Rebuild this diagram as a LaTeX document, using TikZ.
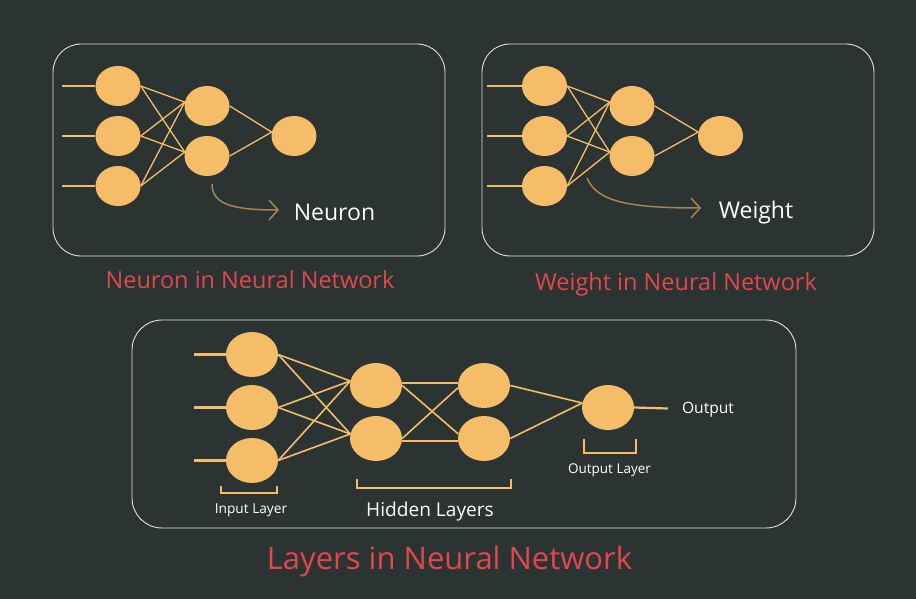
\documentclass[tikz,border=0pt]{standalone}
\usepackage{fontspec}
\setmainfont{Open Sans}
\usetikzlibrary{shapes.geometric,arrows.meta}
\definecolor{bgC}{RGB}{44,51,51}
\definecolor{nodeC}{RGB}{245,189,103}
\definecolor{redC}{RGB}{224,72,76}
\definecolor{boxC}{RGB}{225,225,225}
\definecolor{arrC}{RGB}{168,132,79}
\newcommand{\myfs}[1]{\fontsize{#1}{#1}\selectfont}
\tikzset{
  neuron/.style={ellipse, fill=nodeC, draw=none, minimum width=45pt, minimum height=40pt, inner sep=0pt},
  bigneuron/.style={ellipse, fill=nodeC, draw=none, minimum width=52pt, minimum height=45pt, inner sep=0pt},
  edge/.style={draw=nodeC, line width=1.3pt},
  bigedge/.style={draw=nodeC, line width=1.6pt},
  inline/.style={draw=nodeC, line width=1.6pt},
  biginline/.style={draw=nodeC, line width=2.2pt},
  panel/.style={draw=boxC, line width=0.9pt, rounded corners=28pt, fill=none, inner sep=0pt},
  curvearrow/.style={draw=arrC, line width=1.5pt, -{Straight Barb[length=9pt,width=20pt]}},
  title/.style={text=redC, anchor=base, inner sep=0pt},
  label/.style={text=white, anchor=base, inner sep=0pt},
  bracket/.style={draw=nodeC, line width=1.2pt}
}
\begin{document}
\begin{tikzpicture}[x=1pt,y=-1pt]
\fill[bgC] (0,0) rectangle (916,599);
\useasboundingbox (0,0) rectangle (916,599);

% ---------- Panel 1 ----------
\node[panel, minimum width=392pt, minimum height=212pt] (p1) at (249,150) {};
\node[neuron] (a1) at (118,86) {};
\node[neuron] (a2) at (118,136) {};
\node[neuron] (a3) at (118,186) {};
\node[neuron] (b1) at (207,106) {};
\node[neuron] (b2) at (207,156) {};
\node[neuron] (c1) at (294,136) {};
\coordinate (sa1) at (62,86);
\coordinate (sa2) at (62,136);
\coordinate (sa3) at (62,186);
\foreach \i in {1,2,3} {\draw[inline] (sa\i) -- (a\i.west);}
\foreach \i in {1,2,3} {\foreach \j in {1,2} {\draw[edge] (a\i.east) -- (b\j.170);}}
\foreach \j in {1,2} {\draw[edge] (b\j.east) -- (c1.170);}
\coordinate (ar1s) at (212,184);
\coordinate (ar1e) at (279,210);
\draw[curvearrow] (ar1s) .. controls (212,204) and (232,210) .. (ar1e);
\node[label] (neur) at (334.5,220.7) {\myfs{23}Neuron};
\node[title] (t1) at (250,288.3) {\myfs{23.5}Neuron in Neural Network};

% ---------- Panel 2 ----------
\node[panel, minimum width=392pt, minimum height=212pt] (p2) at (678,150) {};
\node[neuron] (d1) at (544.5,86) {};
\node[neuron] (d2) at (544.5,136) {};
\node[neuron] (d3) at (544.5,186) {};
\node[neuron] (e1) at (632,106) {};
\node[neuron] (e2) at (632,156) {};
\node[neuron] (f1) at (720.5,136) {};
\coordinate (sd1) at (487,86);
\coordinate (sd2) at (487,136);
\coordinate (sd3) at (487,186);
\foreach \i in {1,2,3} {\draw[inline] (sd\i) -- (d\i.west);}
\foreach \i in {1,2,3} {\foreach \j in {1,2} {\draw[edge] (d\i.east) -- (e\j.170);}}
\foreach \j in {1,2} {\draw[edge] (e\j.east) -- (f1.170);}
\coordinate (ar2s) at (587,178);
\coordinate (ar2e) at (701,208);
\draw[curvearrow] (ar2s) .. controls (597,202) and (630,208) .. (ar2e);
\node[label] (wgt) at (756,218.3) {\myfs{23}Weight};
\node[title] (t2) at (676,290) {\myfs{23.5}Weight in Neural Network};

% ---------- Panel 3 ----------
\node[panel, minimum width=664pt, minimum height=208pt, rounded corners=30pt] (p3) at (464,424) {};
\node[bigneuron] (g1) at (252,354.5) {};
\node[bigneuron] (g2) at (252,407.5) {};
\node[bigneuron] (g3) at (252,460.5) {};
\node[bigneuron] (h1) at (376,385.5) {};
\node[bigneuron] (h2) at (376,438.5) {};
\node[bigneuron] (k1) at (484,385.5) {};
\node[bigneuron] (k2) at (484,438.5) {};
\node[bigneuron] (m1) at (608,407.5) {};
\coordinate (sg1) at (194,354.5);
\coordinate (sg2) at (194,407.5);
\coordinate (sg3) at (194,460.5);
\foreach \i in {1,2,3} {\draw[biginline] (sg\i) -- (g\i.west);}
\foreach \i in {1,2,3} {\foreach \j in {1,2} {\draw[bigedge] (g\i.east) -- (h\j.170);}}
\draw[bigedge] (h1.east |- 0,383) -- (k1.west |- 0,383);
\draw[bigedge] (h2.east |- 0,441) -- (k2.west |- 0,441);
\draw[bigedge] (h1.east) -- (k2.170);
\draw[bigedge] (h2.east) -- (k1.185);
\foreach \j in {1,2} {\draw[bigedge] (k\j.east) -- (m1.170);}
\coordinate (oend) at (668,408.5);
\draw[biginline] (m1.east) -- (oend);
\node[label] (outl) at (708,413.7) {\myfs{15.6}Output};

% brackets
\draw[bracket] (221,486) -- (221,493) -- (277,493) -- (277,486);
\draw[bracket] (357,479) -- (357,488) -- (511,488) -- (511,479);
\draw[bracket] (584,439) -- (584,453) -- (636,453) -- (636,439);
\node[label] (inlay) at (251,513.3) {\myfs{13.7}Input Layer};
\node[label] (hidlay) at (430,516.7) {\myfs{19.1}Hidden Layers};
\node[label] (outlay) at (609.5,473.7) {\myfs{13.5}Output Layer};
\node[title] (t3) at (449.5,569) {\myfs{31}Layers in Neural Network};
\end{tikzpicture}
\end{document}
